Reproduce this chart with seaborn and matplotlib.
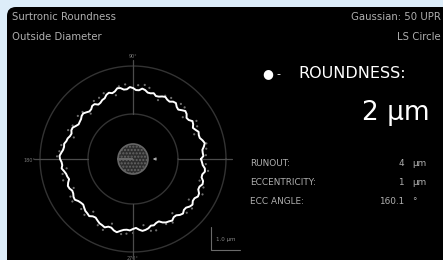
import numpy as np
import pandas as pd
import seaborn as sns
import matplotlib.pyplot as plt
from matplotlib.patches import FancyBboxPatch

# profile radius (display units, 1 unit ~ 1 px) read every 2.5 deg, 0 deg = right, ccw
angles_deg = [i * 2.5 for i in range(144)]
profile_r = [68, 70.5, 70, 70, 72, 73.5, 72, 70, 70, 71, 69, 67.5,
             69.5, 70.5, 68, 67.5, 70, 71, 69, 67, 68, 70.5, 70, 68,
             68.5, 70, 69, 67.5, 67, 69, 68, 68, 70, 71, 69, 69,
             71, 72, 70, 70, 72, 72.5, 70, 69, 70.5, 69.5, 67, 66.5,
             65, 64.5, 67, 67, 65, 64.5, 66, 67.5, 67, 65.5, 65, 64.5,
             66, 68, 68, 66.5, 67, 68.5, 69, 70.5, 70, 70.5, 72, 73.5,
             73, 71.5, 71, 72, 70, 68.5, 68, 67, 69, 70.5, 70, 68.5,
             69, 70.5, 71, 69, 68, 67.5, 69, 70.5, 71, 72, 70, 69.5,
             71, 72.5, 73, 74, 72, 72, 74, 75, 73, 71.5, 71, 71.5,
             70, 69, 71, 72.5, 72, 71, 69, 69.5, 68, 67.5, 70, 71.5,
             72, 73, 71, 71, 73, 74, 72, 72, 74, 75, 73, 73,
             75, 74.5, 72, 72, 74, 73.5, 71, 71, 73, 72.5, 70, 69]

# raw points scattered around the filtered profile
raw_deg = [3, 12, 22, 31, 40, 49, 58, 67, 77, 86, 96, 105, 114, 124, 133, 142,
           151, 160, 169, 178, 188, 197, 206, 215, 224, 233, 242, 252, 261, 270,
           279, 288, 297, 306, 315, 324, 333, 342, 351,
           8, 27, 45, 63, 81, 101, 119, 137, 156, 174, 192, 211, 229, 247,
           265, 284, 302, 320, 338, 356]
raw_r = [73, 75, 66, 74, 65, 73, 72, 64, 73, 74, 75, 66, 72, 70, 62, 70,
         69, 63, 73, 76, 67, 73, 66, 74, 72, 66, 75, 68, 76, 74,
         67, 75, 73, 67, 76, 69, 78, 70, 76,
         74, 72, 73, 71, 75, 74, 70, 69, 71, 74, 72, 73, 74, 77,
         75, 74, 75, 77, 76, 73]

ring_r = [45, 93]
cross_deg = [0, 90, 180, 270]
cross_labels = ['', '90°', '180°', '270°']

title_left = ['Surtronic Roundness', 'Outside Diameter']
title_right = ['Gaussian: 50 UPR', 'LS Circle']
result_name = 'ROUNDNESS:'
result_value = '2 µm'
param_names = ['RUNOUT:', 'ECCENTRICITY:', 'ECC ANGLE:']
param_values = ['4', '1', '160.1']
param_units = ['µm', 'µm', '°']
scale_label = '1.0 µm'

sns.set_theme(style='dark')
plt.rcParams['font.family'] = ['DejaVu Sans']

fig = plt.figure(figsize=(4.43, 2.60), dpi=100)
fig.patch.set_facecolor('#ddedf9')

# panel with text, pixel coords
bg = fig.add_axes([0, 0, 1, 1])
bg.set_xlim(0, 443)
bg.set_ylim(260, 0)
bg.axis('off')
bg.add_patch(FancyBboxPatch((7, 7), 470, 280, boxstyle='round,pad=0,rounding_size=9',
                            fc='black', ec='none'))

grey = '#b0b0b0'
bg.text(12, 17, title_left[0], color=grey, fontsize=7.3, va='center')
bg.text(12, 37, title_left[1], color=grey, fontsize=7.3, va='center')
bg.text(441, 17, title_right[0], color=grey, fontsize=7.3, va='center', ha='right')
bg.text(441, 37, title_right[1], color=grey, fontsize=7.3, va='center', ha='right')

bg.text(262, 74, '●', color='white', fontsize=9, va='center')
bg.text(276, 74, '-', color='white', fontsize=8, va='center')
bg.text(298, 74, result_name, color='white', fontsize=11.5, va='center')
bg.text(430, 113, result_value, color='white', fontsize=19, va='center', ha='right')

for i, (n, v, u) in enumerate(zip(param_names, param_values, param_units)):
    y = 163 + 19.5 * i
    bg.text(250, y, n, color=grey, fontsize=6.4, va='center')
    bg.text(404, y, v, color=grey, fontsize=6.4, va='center', ha='right')
    bg.text(412, y, u, color=grey, fontsize=6.4, va='center')

# scale bar
bg.plot([211, 211, 240], [227, 250, 250], color='#6a6a6a', lw=0.8)
bg.text(216, 240, scale_label, color='#888888', fontsize=4, va='center')

# polar plot
ax = fig.add_axes([(133 - 100) / 443, (260 - 159 - 100) / 260, 200 / 443, 200 / 260],
                  projection='polar')
ax.set_facecolor('none')
ax.set_ylim(0, 100)
ax.grid(False)
ax.spines['polar'].set_visible(False)

th = np.deg2rad(np.linspace(0, 360, 361))
for r in ring_r:
    ax.plot(th, np.full_like(th, r), color='#333333', lw=1.0)
for d in cross_deg:
    ax.plot([np.deg2rad(d)] * 2, [45, 99], color='#4c4c4c', lw=0.9)

# centre disc and arrow
ax.bar(0, 15, width=2 * np.pi, bottom=0, color='#2e2e2e', edgecolor='#666666',
       lw=1.2, hatch='.....')
ax.annotate('', xy=(0, 17), xytext=(0, 25),
            arrowprops=dict(arrowstyle='-|>', color='#aaaaaa', lw=0.7, mutation_scale=4))

raw = pd.DataFrame({'theta': np.deg2rad(raw_deg), 'r': raw_r})
sns.scatterplot(data=raw, x='theta', y='r', ax=ax, color='#6e6e6e', s=2.5,
                edgecolor='none', legend=False)

prof = pd.DataFrame({'theta': np.deg2rad(angles_deg + [360]),
                     'r': profile_r + [profile_r[0]]})
sns.lineplot(data=prof, x='theta', y='r', ax=ax, color='white', lw=1.4,
             sort=False, estimator=None)
ax.set_xlabel('')
ax.set_ylabel('')
ax.set_xticks([])
ax.set_yticks([])
ax.set_ylim(0, 100)

bg.text(133, 56, cross_labels[1], color='#777777', fontsize=3.5, ha='center', va='center')
bg.text(29, 160, cross_labels[2], color='#777777', fontsize=3.5, ha='center', va='center')
bg.text(133, 258, cross_labels[3], color='#777777', fontsize=3.5, ha='center', va='center')

fig.savefig('out.png', dpi=100, facecolor=fig.get_facecolor())
